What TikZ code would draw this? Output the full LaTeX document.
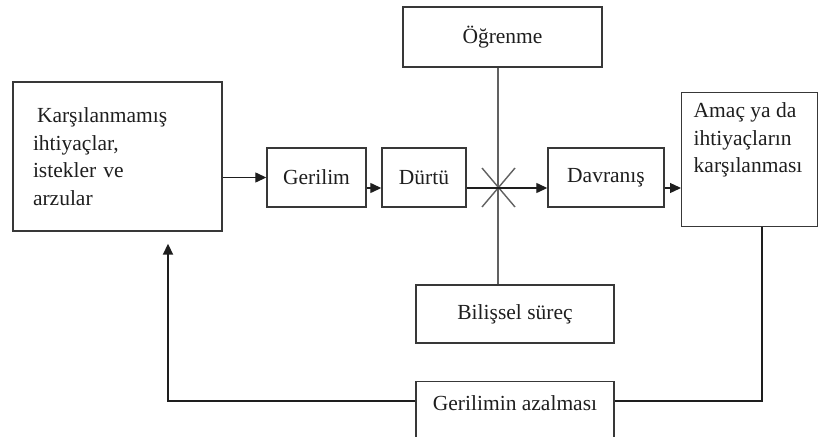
\documentclass[tikz,border=0pt]{standalone}
\usepackage{fontspec}
\setmainfont{Liberation Serif}
\usetikzlibrary{arrows.meta,calc}
\definecolor{ink}{HTML}{1E1E1E}
\definecolor{frame}{HTML}{383838}
\tikzset{
  box/.style={draw=frame, line width=1.4pt, rectangle, inner sep=0pt, text=ink,
    font=\fontsize{21.5}{27.5}\selectfont},
  conn/.style={draw=ink, line width=1.3pt},
  grayline/.style={draw=black!62, line width=1.4pt},
  arr/.style={conn, -{Triangle[length=11pt,width=10pt]}},
}
\begin{document}
\begin{tikzpicture}[x=1pt,y=-1pt]
\useasboundingbox (0,0) rectangle (818,436);
\clip (0,0) rectangle (818,436);
% boxes
\node[box, minimum width=209pt, minimum height=149pt, inner xsep=20pt, text width=169pt, align=left]
  (L) at (117.5,156.5) {\hspace*{4pt}Karşılanmamış\\ihtiyaçlar,\\istekler ve\\arzular};
\node[box, minimum width=99pt, minimum height=59pt] (G) at (316.5,177.5) {Gerilim};
\node[box, minimum width=84pt, minimum height=59pt] (D) at (424,177.5) {Dürtü};
\node[box, minimum width=116pt, minimum height=59pt] (V) at (606,177.5) {Davranış};
\node[box, minimum width=136pt, minimum height=134pt, anchor=north west, inner xsep=12pt, inner ysep=10pt]
  (A) at (681,92) {\parbox[c][114pt][t]{112pt}{\raggedright Amaç ya da\\ihtiyaçların\\karşılanması}};
\node[box, minimum width=199pt, minimum height=60pt] (O) at (502.5,37) {Öğrenme};
\node[box, minimum width=198pt, minimum height=58pt] (B) at (515,314) {Bilişsel süreç};
\node[box, minimum width=198pt, minimum height=60pt, anchor=north] (R) at (515,381) {};
\node[text=ink, font=\fontsize{21.5}{27.5}\selectfont] (Rt) at (515,403) {Gerilimin azalması};
% cross point and feedback corners
\coordinate (X) at (498,188);
\coordinate (FR) at (762,401);
\coordinate (FL) at (168,401);
% vertical line through cross
\draw[grayline] (O.south -| X) -- (B.north -| X);
\draw[grayline] ($(X)+(-16,-20)$) -- ($(X)+(17,19)$);
\draw[grayline] ($(X)+(-16,19)$) -- ($(X)+(17,-20)$);
% main flow
\draw[arr] (G.west -| L.east) -- (G.west);
\draw[arr] (G.east |- X) -- (D.west |- X);
\draw[conn] (D.east |- X) -- (X);
\draw[arr] (X) -- (V.west |- X);
\draw[arr] (V.east |- X) -- (A.west |- X);
% feedback
\draw[conn] (A.south -| FR) -- (FR) -- (R.east |- FR);
\draw[arr, line width=1.8pt, shorten >=12pt] (R.west |- FL) -- (FL) -- (L.south -| FL);
\end{tikzpicture}
\end{document}
